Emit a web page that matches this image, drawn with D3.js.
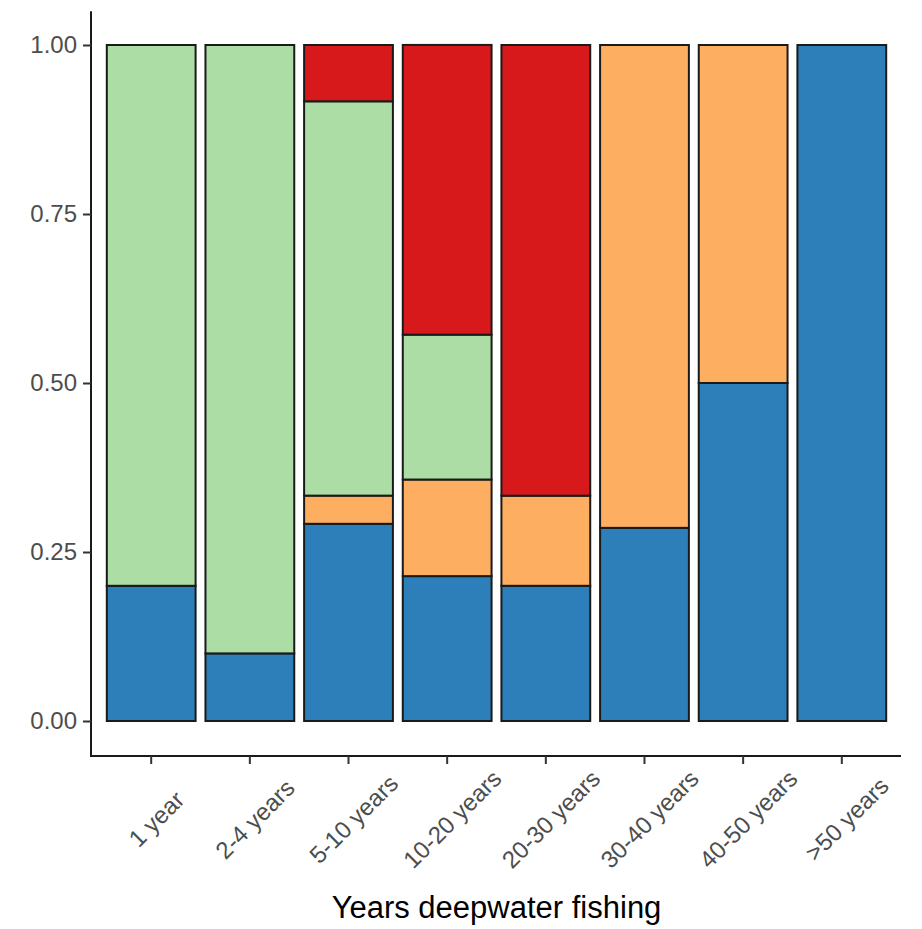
<!DOCTYPE html>
<html>
<head>
<meta charset="utf-8">
<script src="https://cdn.jsdelivr.net/npm/d3@7"></script>
<style>
  html, body { margin: 0; padding: 0; background: #fff; }
  svg { display: block; font-family: "Liberation Sans", Arial, sans-serif; }
</style>
</head>
<body>
<svg id="chart" width="922" height="929"></svg>
<script>
// ---- data (proportions) ----
const categories = ["1 year", "2-4 years", "5-10 years", "10-20 years", "20-30 years", "30-40 years", "40-50 years", ">50 years"];
const seriesKeys = ["groupA", "groupB", "groupC", "groupD"]; // bottom -> top
const seriesColors = ["#2c7fb8", "#fdae61", "#abdda4", "#d7191c"];
const groupA = [0.2, 0.1, 0.2917, 0.2143, 0.2, 0.2857, 0.5, 1.0];
const groupB = [0, 0, 0.0417, 0.1429, 0.1333, 0.7143, 0.5, 0];
const groupC = [0.8, 0.9, 0.5833, 0.2143, 0, 0, 0, 0];
const groupD = [0, 0, 0.0833, 0.4286, 0.6667, 0, 0, 0];
const yTicks = [0, 0.25, 0.5, 0.75, 1.0];
const xTitle = "Years deepwater fishing";

const rows = categories.map((c, i) => ({
  cat: c, groupA: groupA[i], groupB: groupB[i], groupC: groupC[i], groupD: groupD[i]
}));

const svg = d3.select("#chart");
const x = d3.scaleBand().domain(categories).range([92, 901]).paddingInner(0.1).paddingOuter(0.15);
const y = d3.scaleLinear().domain([-0.05, 1.05]).range([754.8, 11.2]);
const color = d3.scaleOrdinal().domain(seriesKeys).range(seriesColors);

const stacked = d3.stack().keys(seriesKeys)(rows);

svg.append("g").selectAll("g").data(stacked).join("g")
  .attr("fill", d => color(d.key))
  .selectAll("rect").data(d => d.filter(s => s[1] - s[0] > 0)).join("rect")
  .attr("x", d => x(d.data.cat))
  .attr("width", x.bandwidth())
  .attr("y", d => y(d[1]))
  .attr("height", d => y(d[0]) - y(d[1]))
  .attr("stroke", "#1a1a1a")
  .attr("stroke-width", 2);

// y axis
const yAxis = d3.axisLeft(y).tickValues(yTicks).tickFormat(d3.format(".2f")).tickSize(8).tickPadding(6);
const gy = svg.append("g").attr("transform", "translate(91,0)").call(yAxis);
gy.select(".domain").attr("stroke", "#1a1a1a").attr("stroke-width", 2).attr("d", "M0,11.2V757");
gy.selectAll(".tick line").attr("stroke", "#333").attr("stroke-width", 2);
gy.selectAll(".tick text").attr("font-size", 24).attr("fill", "#4d4d4d")
  .attr("font-family", "Liberation Sans, Arial, sans-serif");

// x axis
const xAxis = d3.axisBottom(x).tickSize(8).tickFormat("");
const gx = svg.append("g").attr("transform", "translate(0,756)").call(xAxis);
gx.select(".domain").attr("stroke", "#1a1a1a").attr("stroke-width", 2).attr("d", "M90,0H901");
gx.selectAll(".tick line").attr("stroke", "#333").attr("stroke-width", 2);

svg.append("g").selectAll("text").data(categories).join("text")
  .attr("transform", d => `translate(${x(d) + x.bandwidth() / 2 + 5},819) rotate(-45)`)
  .attr("text-anchor", "middle")
  .attr("dominant-baseline", "central")
  .attr("font-size", 24)
  .attr("fill", "#4d4d4d")
  .text(d => d);

svg.append("text")
  .attr("x", (92 + 901) / 2)
  .attr("y", 918)
  .attr("text-anchor", "middle")
  .attr("font-size", 31)
  .attr("fill", "#000")
  .text(xTitle);
</script>
</body>
</html>
